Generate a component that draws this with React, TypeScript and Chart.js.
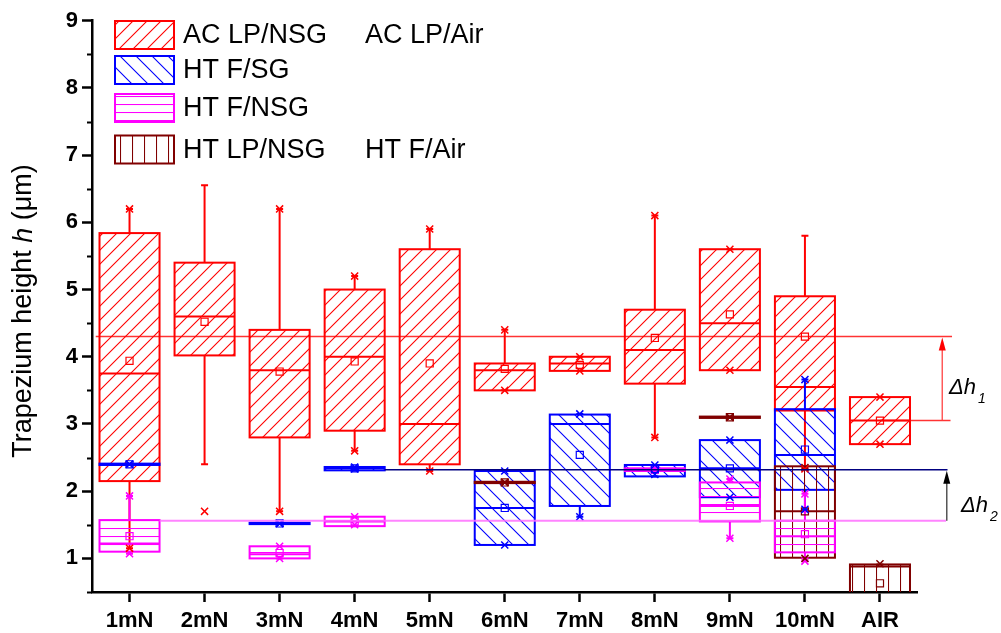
import React, { useEffect, useRef } from 'react';
import { Chart, registerables } from 'chart.js';

Chart.register(...registerables);

const FONT = '"Liberation Sans", Arial, Helvetica, sans-serif';

const categories = ['1mN', '2mN', '3mN', '4mN', '5mN', '6mN', '7mN', '8mN', '9mN', '10mN', 'AIR'];
const yMin = 0.5;
const yMax = 9;

// AC LP/NSG (1–10 mN) and AC LP/Air (AIR)
const acQ1 = [2.15, 4.02, 2.8, 2.9, 2.4, 3.5, 3.79, 3.6, 3.8, 3.2, 2.7];
const acMedian = [3.75, 4.6, 3.8, 4.0, 3.0, 3.8, 3.9, 4.1, 4.5, 3.55, 3.05];
const acQ3 = [5.84, 5.4, 4.4, 5.0, 5.6, 3.9, 4.0, 4.7, 5.6, 4.9, 3.4];
const acMean = [3.94, 4.52, 3.78, 3.93, 3.9, 3.82, 3.88, 4.28, 4.63, 4.3, 3.05];
const acWhiskerLo = [1.15, 2.4, 1.7, 2.6, 2.3, 3.5, 3.79, 2.8, 3.8, 2.33, 2.7];
const acWhiskerHi = [6.2, 6.55, 6.2, 5.2, 5.9, 4.4, 4.0, 6.1, 5.6, 5.8, 3.4];
const acStarLo = [1.15, 1.7, 1.7, 2.6, 2.3, 3.5, 3.79, 2.8, 3.8, 2.33, 2.7];
const acStarHi = [6.2, null, 6.2, 5.2, 5.9, 4.4, 4.0, 6.1, 5.6, null, 3.4];

// HT F/SG
const sgQ1 = [2.39, null, 1.51, 2.31, null, 1.2, 1.78, 2.22, 1.91, 2.02, null];
const sgMedian = [2.4, null, 1.52, 2.34, null, 1.75, 3.0, 2.3, 2.34, 2.54, null];
const sgQ3 = [2.41, null, 1.53, 2.36, null, 2.3, 3.14, 2.39, 2.76, 3.22, null];
const sgMean = [2.4, null, 1.52, 2.34, null, 1.75, 2.54, 2.33, 2.34, 2.62, null];
const sgWhiskerLo = [2.39, null, 1.51, 2.31, null, 1.2, 1.62, 2.22, 1.91, 1.73, null];
const sgWhiskerHi = [2.41, null, 1.53, 2.36, null, 2.3, 3.15, 2.39, 2.76, 3.66, null];
const sgStarLo = [2.4, null, 1.52, 2.33, null, 1.2, 1.62, 2.25, 1.91, 1.73, null];
const sgStarHi = [2.4, null, 1.52, 2.36, null, 2.3, 3.15, 2.39, 2.76, 3.66, null];

// HT F/NSG
const fnQ1 = [1.1, null, 1.0, 1.48, null, null, null, 2.3, 1.55, 1.09, null];
const fnMedian = [1.22, null, 1.06, 1.55, null, null, null, 2.32, 1.78, 1.33, null];
const fnQ3 = [1.57, null, 1.18, 1.62, null, null, null, 2.34, 2.13, 1.56, null];
const fnMean = [1.33, null, 1.08, 1.55, null, null, null, 2.32, 1.78, 1.36, null];
const fnWhiskerLo = [1.07, null, 1.0, 1.48, null, null, null, 2.3, 1.3, 0.96, null];
const fnWhiskerHi = [1.93, null, 1.18, 1.62, null, null, null, 2.34, 2.18, 1.96, null];
const fnStarLo = [1.07, null, 1.0, 1.5, null, null, null, 2.31, 1.3, 0.96, null];
const fnStarHi = [1.93, null, 1.18, 1.62, null, null, null, 2.33, 2.18, 1.96, null];

// HT LP/NSG (1–10 mN) and HT F/Air (AIR)
const lpQ1 = [null, null, null, null, null, 2.12, null, null, 3.09, 1.01, 0.3];
const lpMedian = [null, null, null, null, null, 2.13, null, null, 3.1, 1.7, 0.88];
const lpQ3 = [null, null, null, null, null, 2.14, null, null, 3.11, 2.37, 0.91];
const lpMean = [null, null, null, null, null, 2.13, null, null, 3.1, 1.7, 0.63];
const lpWhiskerLo = [null, null, null, null, null, 2.12, null, null, 3.09, 1.0, 0.3];
const lpWhiskerHi = [null, null, null, null, null, 2.14, null, null, 3.11, 2.35, 0.91];
const lpStarLo = [null, null, null, null, null, 2.13, null, null, 3.1, 1.0, null];
const lpStarHi = [null, null, null, null, null, 2.13, null, null, 3.1, 2.35, 0.92];

// reference levels for Δh annotations
const dh1Base = 3.05;
const dh1Top = 4.3;
const dh2Base = 1.56;
const dh2Top = 2.32;

const legendLeft = ['AC LP/NSG', 'HT F/SG', 'HT F/NSG', 'HT LP/NSG'];
const legendRight = ['AC LP/Air', '', '', 'HT F/Air'];

type Num = number | null;
interface SeriesDef {
  key: string;
  color: string;
  hatch: string;
  spacing: number;
  q1: Num[];
  median: Num[];
  q3: Num[];
  mean: Num[];
  whLo: Num[];
  whHi: Num[];
  starLo: Num[];
  starHi: Num[];
}

const seriesDefs: SeriesDef[] = [
  { key: 'ac', color: '#FF0000', hatch: 'up', spacing: 14, q1: acQ1, median: acMedian, q3: acQ3, mean: acMean, whLo: acWhiskerLo, whHi: acWhiskerHi, starLo: acStarLo, starHi: acStarHi },
  { key: 'sg', color: '#0000FF', hatch: 'down', spacing: 16, q1: sgQ1, median: sgMedian, q3: sgQ3, mean: sgMean, whLo: sgWhiskerLo, whHi: sgWhiskerHi, starLo: sgStarLo, starHi: sgStarHi },
  { key: 'lp', color: '#800000', hatch: 'v', spacing: 12, q1: lpQ1, median: lpMedian, q3: lpQ3, mean: lpMean, whLo: lpWhiskerLo, whHi: lpWhiskerHi, starLo: lpStarLo, starHi: lpStarHi },
  { key: 'fn', color: '#FF00FF', hatch: 'h', spacing: 8, q1: fnQ1, median: fnMedian, q3: fnQ3, mean: fnMean, whLo: fnWhiskerLo, whHi: fnWhiskerHi, starLo: fnStarLo, starHi: fnStarHi },
];

function makePattern(kind: string, color: string, s: number): CanvasPattern {
  const c = document.createElement('canvas');
  c.width = s;
  c.height = s;
  const g = c.getContext('2d')!;
  g.strokeStyle = color;
  g.lineWidth = 1.1;
  g.beginPath();
  if (kind === 'up') {
    g.moveTo(-1, s + 1); g.lineTo(s + 1, -1);
    g.moveTo(-1, 1); g.lineTo(1, -1);
    g.moveTo(s - 1, s + 1); g.lineTo(s + 1, s - 1);
  } else if (kind === 'down') {
    g.moveTo(-1, -1); g.lineTo(s + 1, s + 1);
    g.moveTo(s - 1, -1); g.lineTo(s + 1, 1);
    g.moveTo(-1, s - 1); g.lineTo(1, s + 1);
  } else if (kind === 'h') {
    g.moveTo(0, 0.5); g.lineTo(s, 0.5);
  } else {
    g.moveTo(0.5, 0); g.lineTo(0.5, s);
  }
  g.stroke();
  return g.createPattern(c, 'repeat')!;
}

export default function App() {
  const ref = useRef<HTMLCanvasElement>(null);

  useEffect(() => {
    const canvas = ref.current!;
    const patterns: Record<string, CanvasPattern> = {};
    seriesDefs.forEach((d) => {
      patterns[d.key] = makePattern(d.hatch, d.color, d.spacing);
    });

    const boxPlugin = {
      id: 'boxPlugin',
      beforeDatasetsDraw(chart: any) {
        const { ctx, chartArea: a, scales } = chart;
        const x = scales.x;
        const y = scales.y;
        const half = (x.getPixelForValue(1) - x.getPixelForValue(0)) * 0.4;
        const cap = 3.5;
        ctx.save();
        ctx.beginPath();
        ctx.rect(a.left, a.top, a.right - a.left, a.bottom - a.top);
        ctx.clip();
        for (const d of seriesDefs) {
          for (let i = 0; i < categories.length; i++) {
            const q1 = d.q1[i];
            const q3 = d.q3[i];
            if (q1 == null || q3 == null) continue;
            const cx = x.getPixelForValue(i);
            const yTop = y.getPixelForValue(q3);
            const yBot = y.getPixelForValue(q1);
            ctx.strokeStyle = d.color;
            ctx.lineWidth = 2;
            const hi = d.whHi[i];
            const lo = d.whLo[i];
            ctx.beginPath();
            if (hi != null) {
              const p = y.getPixelForValue(hi);
              ctx.moveTo(cx, yTop); ctx.lineTo(cx, p);
              ctx.moveTo(cx - cap, p); ctx.lineTo(cx + cap, p);
            }
            if (lo != null) {
              const p = y.getPixelForValue(lo);
              ctx.moveTo(cx, yBot); ctx.lineTo(cx, p);
              ctx.moveTo(cx - cap, p); ctx.lineTo(cx + cap, p);
            }
            ctx.stroke();
            ctx.fillStyle = patterns[d.key];
            ctx.fillRect(cx - half, yTop, 2 * half, yBot - yTop);
            ctx.strokeRect(cx - half, yTop, 2 * half, yBot - yTop);
            const m = d.median[i];
            if (m != null) {
              const p = y.getPixelForValue(m);
              ctx.beginPath();
              ctx.moveTo(cx - half, p); ctx.lineTo(cx + half, p);
              ctx.stroke();
            }
          }
        }
        ctx.restore();
      },
      afterDraw(chart: any) {
        const { ctx, chartArea: a, scales } = chart;
        const x = scales.x;
        const y = scales.y;
        ctx.save();
        // minor y ticks
        ctx.strokeStyle = '#000';
        ctx.lineWidth = 2;
        ctx.beginPath();
        for (let v = yMin; v <= yMax; v += 0.5) {
          if (Number.isInteger(v)) continue;
          const p = Math.round(y.getPixelForValue(v)) + 0.5;
          ctx.moveTo(a.left - 5, p); ctx.lineTo(a.left, p);
        }
        ctx.stroke();

        // reference lines
        const hline = (val: number, x0: number, x1: number, color: string, w: number) => {
          const p = y.getPixelForValue(val);
          ctx.strokeStyle = color;
          ctx.lineWidth = w;
          ctx.beginPath();
          ctx.moveTo(x.getPixelForValue(x0), p);
          ctx.lineTo(x.getPixelForValue(x1), p);
          ctx.stroke();
        };
        hline(dh1Top, -0.45, 10.96, 'rgba(255,0,0,0.8)', 1.5);
        hline(dh1Base, 10.0, 10.94, 'rgba(255,0,0,0.8)', 1.5);
        hline(dh2Top, 3.4, 10.9, '#000080', 1.5);
        hline(dh2Base, 0.4, 10.88, 'rgba(255,110,255,0.85)', 2);

        const arrow = (xv: number, from: number, to: number, shaft: string, head: string) => {
          const px = x.getPixelForValue(xv);
          const p0 = y.getPixelForValue(from);
          const p1 = y.getPixelForValue(to);
          ctx.strokeStyle = shaft;
          ctx.lineWidth = 1.5;
          ctx.beginPath();
          ctx.moveTo(px, p0); ctx.lineTo(px, p1 + 12);
          ctx.stroke();
          ctx.fillStyle = head;
          ctx.beginPath();
          ctx.moveTo(px, p1 + 1);
          ctx.lineTo(px - 3.5, p1 + 14);
          ctx.lineTo(px + 3.5, p1 + 14);
          ctx.closePath();
          ctx.fill();
        };
        arrow(10.83, dh1Base, dh1Top, 'rgba(255,60,60,0.85)', '#FF0000');
        arrow(10.89, dh2Base, dh2Top, '#555', '#000');

        const dh = (xp: number, base: number, sub: string) => {
          ctx.fillStyle = '#000';
          ctx.textBaseline = 'alphabetic';
          ctx.textAlign = 'left';
          ctx.font = `italic 22px ${FONT}`;
          ctx.fillText('\u0394h', xp, base);
          const w = ctx.measureText('\u0394h').width;
          ctx.font = `italic 14px ${FONT}`;
          ctx.fillText(sub, xp + w + 2, base + 9);
        };
        dh(949, 394, '1');
        dh(961, 512, '2');

        // y title
        ctx.save();
        ctx.translate(24, 311);
        ctx.rotate(-Math.PI / 2);
        ctx.fillStyle = '#000';
        ctx.textBaseline = 'middle';
        ctx.textAlign = 'left';
        const parts = [
          { t: 'Trapezium height ', f: `27px ${FONT}` },
          { t: 'h', f: `italic 27px ${FONT}` },
          { t: ' (\u03bcm)', f: `27px ${FONT}` },
        ];
        let total = 0;
        for (const pt of parts) { ctx.font = pt.f; total += ctx.measureText(pt.t).width; }
        let cur = -total / 2;
        for (const pt of parts) {
          ctx.font = pt.f;
          ctx.fillText(pt.t, cur, 0);
          cur += ctx.measureText(pt.t).width;
        }
        ctx.restore();

        // legend
        const boxes = [
          { key: 'ac', color: '#FF0000', top: 21 },
          { key: 'sg', color: '#0000FF', top: 56 },
          { key: 'fn', color: '#FF00FF', top: 94 },
          { key: 'lp', color: '#800000', top: 135.5 },
        ];
        ctx.font = `27px ${FONT}`;
        ctx.textBaseline = 'middle';
        ctx.textAlign = 'left';
        boxes.forEach((b, i) => {
          ctx.fillStyle = patterns[b.key];
          ctx.fillRect(115, b.top, 59, 28);
          ctx.strokeStyle = b.color;
          ctx.lineWidth = 2;
          ctx.strokeRect(115, b.top, 59, 28);
          ctx.fillStyle = '#000';
          ctx.fillText(legendLeft[i], 183, b.top + 15);
          if (legendRight[i]) ctx.fillText(legendRight[i], 365, b.top + 15);
        });
        ctx.restore();
      },
    };

    const pointDs = (data: Num[], color: string, style: string, radius: number, bw: number) => ({
      type: 'line' as const,
      data,
      showLine: false,
      pointStyle: style,
      pointRadius: radius,
      pointHoverRadius: radius,
      pointBorderColor: color,
      pointBackgroundColor: 'rgba(0,0,0,0)',
      pointBorderWidth: bw,
      borderColor: color,
      backgroundColor: 'rgba(0,0,0,0)',
    });

    const datasets: any[] = [];
    for (const d of seriesDefs) {
      datasets.push(pointDs(d.mean, d.color, 'rect', 5, 1.2));
      datasets.push(pointDs(d.starLo, d.color, 'crossRot', 5, 1.5));
      datasets.push(pointDs(d.starHi, d.color, 'crossRot', 5, 1.5));
    }

    const chart = new Chart(canvas, {
      type: 'line',
      data: { labels: categories, datasets },
      options: {
        responsive: false,
        animation: false,
        devicePixelRatio: 1,
        events: [],
        layout: { padding: { top: 20.7, right: 83.5, left: 0, bottom: 0 } },
        plugins: { legend: { display: false }, tooltip: { enabled: false } },
        scales: {
          x: {
            type: 'category',
            offset: true,
            afterFit: (s: any) => { s.height = 41; },
            grid: { display: true, drawOnChartArea: false, offset: false, tickLength: 10, tickWidth: 2.5, tickColor: '#000' },
            border: { display: true, width: 2.5, color: '#000' },
            ticks: { color: '#000', font: { family: FONT, size: 22, weight: 'bold' }, padding: 6, autoSkip: false, maxRotation: 0 },
          },
          y: {
            type: 'linear',
            min: yMin,
            max: yMax,
            afterFit: (s: any) => { s.width = 92; },
            grid: {
              display: true,
              drawOnChartArea: false,
              tickLength: 10,
              tickWidth: 2.5,
              tickColor: (c: any) => (Number.isInteger(c.tick && c.tick.value) ? '#000' : 'rgba(0,0,0,0)'),
            },
            border: { display: true, width: 2.5, color: '#000' },
            ticks: {
              stepSize: 0.5,
              autoSkip: false,
              color: '#000',
              padding: 4,
              font: { family: FONT, size: 22, weight: 'bold' },
              callback: (v: any) => (Number.isInteger(v) ? String(v) : ''),
            },
          },
        },
      } as any,
      plugins: [boxPlugin],
    });

    return () => chart.destroy();
  }, []);

  return (
    <div style={{ position: 'fixed', left: 0, top: 0, width: 1001, height: 633, background: '#fff' }}>
      <canvas ref={ref} width={1001} height={633} style={{ display: 'block', width: 1001, height: 633 }} />
    </div>
  );
}
